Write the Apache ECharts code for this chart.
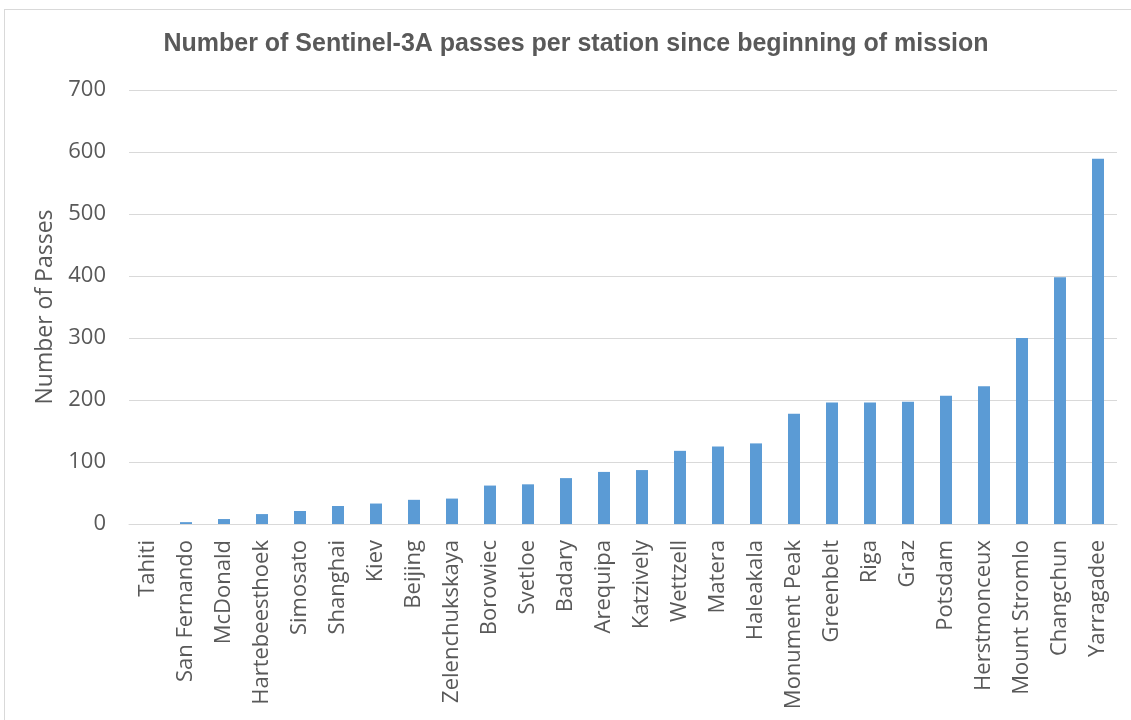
<!DOCTYPE html>
<html>
<head>
<meta charset="utf-8">
<script src="https://cdn.jsdelivr.net/npm/echarts@6/dist/echarts.min.js"></script>
<style>
  html, body { margin: 0; padding: 0; background: #fff; }
  #frame {
    position: absolute; left: 4px; top: 9px; width: 1140px; height: 720px;
    border: 1px solid #d9d9d9; box-sizing: border-box;
  }
  #chart { position: absolute; left: 0; top: 0; width: 1131px; height: 720px; }
</style>
</head>
<body>
<div id="frame"></div>
<div id="chart"></div>
<script>
// stations, sorted by number of passes
var stations = ['Tahiti', 'San Fernando', 'McDonald', 'Hartebeesthoek', 'Simosato', 'Shanghai',
  'Kiev', 'Beijing', 'Zelenchukskaya', 'Borowiec', 'Svetloe', 'Badary', 'Arequipa', 'Katzively',
  'Wettzell', 'Matera', 'Haleakala', 'Monument Peak', 'Greenbelt', 'Riga', 'Graz', 'Potsdam',
  'Herstmonceux', 'Mount Stromlo', 'Changchun', 'Yarragadee']
var passes = [0, 3, 8, 16, 21, 29, 33, 39, 41, 62, 64, 74, 84, 87, 118, 125, 130, 178, 196, 196,
  197, 207, 222, 300, 398, 589]
var yTicks = [0, 100, 200, 300, 400, 500, 600, 700]

var myChart = echarts.init(document.getElementById('chart'))
var option = {
  animation: false,
  title: {
    text: 'Number of Sentinel-3A passes per station since beginning of mission',
    left: 571,
    textAlign: 'center',
    top: 27,
    textStyle: {
      fontFamily: "'Liberation Sans', sans-serif",
      fontWeight: 'bold',
      fontSize: 25,
      color: '#595959'
    }
  },
  grid: { left: 129, right: 14, top: 90, bottom: 196 },
  xAxis: {
    type: 'category',
    data: stations,
    axisLine: { lineStyle: { color: '#d9d9d9', width: 1 } },
    axisTick: { show: false },
    axisLabel: {
      rotate: 90,
      interval: 0,
      margin: 16,
      fontFamily: "'Open Sans', sans-serif",
      fontSize: 22,
      color: '#595959'
    }
  },
  yAxis: {
    type: 'value',
    min: yTicks[0],
    max: yTicks[yTicks.length - 1],
    interval: 100,
    name: 'Number of Passes',
    nameLocation: 'middle',
    nameGap: 70,
    nameTextStyle: { fontFamily: "'Open Sans', sans-serif", fontSize: 23, color: '#595959' },
    axisLine: { show: false },
    axisTick: { show: false },
    splitLine: { lineStyle: { color: '#d9d9d9', width: 1 } },
    axisLabel: {
      margin: 23,
      fontFamily: "'Open Sans', sans-serif",
      fontSize: 22,
      color: '#595959'
    }
  },
  series: [{
    type: 'bar',
    data: passes,
    barWidth: 12,
    itemStyle: { color: '#5b9bd5' }
  }]
}
myChart.setOption(option)
</script>
</body>
</html>
